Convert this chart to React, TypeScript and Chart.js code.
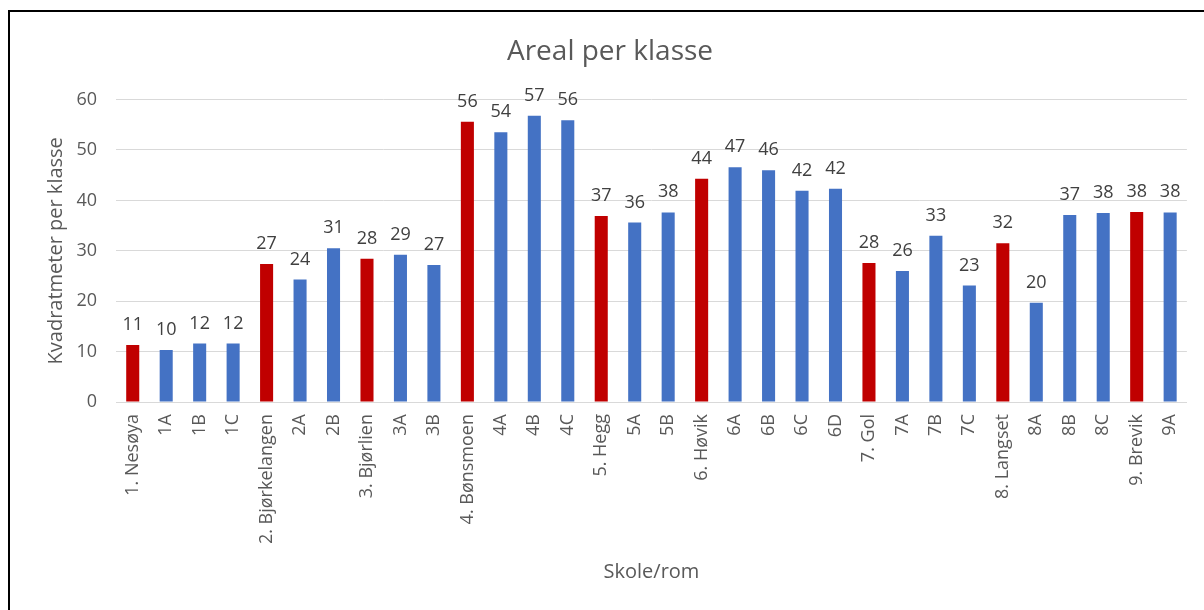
import React, { useEffect, useRef } from "react";
import { Chart, registerables } from "chart.js";

Chart.register(...registerables);

const categories: string[] = [
  "1. Nesøya", "1A", "1B", "1C",
  "2. Bjørkelangen", "2A", "2B",
  "3. Bjørlien", "3A", "3B",
  "4. Bønsmoen", "4A", "4B", "4C",
  "5. Hegg", "5A", "5B",
  "6. Høvik", "6A", "6B", "6C", "6D",
  "7. Gol", "7A", "7B", "7C",
  "8. Langset", "8A", "8B", "8C",
  "9. Brevik", "9A",
];

const areaPerClass: number[] = [
  11.3, 10.3, 11.6, 11.6,
  27.4, 24.3, 30.5,
  28.4, 29.2, 27.2,
  55.6, 53.5, 56.8, 55.9,
  36.9, 35.6, 37.6,
  44.3, 46.6, 46.0, 41.9, 42.3,
  27.6, 26.0, 33.0, 23.1,
  31.5, 19.7, 37.1, 37.5,
  37.7, 37.6,
];

const yTicks: number[] = [0, 10, 20, 30, 40, 50, 60];

const SCHOOL_COLOR = "#C00000";
const ROOM_COLOR = "#4472C4";
const FONT = "'Open Sans', 'DejaVu Sans', sans-serif";

const dataLabels = {
  id: "dataLabels",
  afterDatasetsDraw(chart: any) {
    const ctx = chart.ctx;
    const meta = chart.getDatasetMeta(0);
    const values = chart.data.datasets[0].data as number[];
    ctx.save();
    ctx.fillStyle = "#404040";
    ctx.font = `18px ${FONT}`;
    ctx.textAlign = "center";
    ctx.textBaseline = "alphabetic";
    meta.data.forEach((el: any, i: number) => {
      ctx.fillText(String(Math.round(values[i])), el.x, el.y - 15);
    });
    ctx.restore();
  },
};

export default function App() {
  const ref = useRef<HTMLCanvasElement | null>(null);

  useEffect(() => {
    if (!ref.current) return;
    const colors = categories.map((c) => (/^\d+\./.test(c) ? SCHOOL_COLOR : ROOM_COLOR));
    const chart = new Chart(ref.current, {
      type: "bar",
      data: {
        labels: categories,
        datasets: [
          {
            data: areaPerClass,
            backgroundColor: colors,
            borderWidth: 0,
            barPercentage: 0.39,
            categoryPercentage: 1,
          },
        ],
      },
      options: {
        responsive: false,
        animation: false,
        devicePixelRatio: 1,
        layout: { padding: { left: 22, right: 16, top: 0, bottom: 26 } },
        plugins: {
          legend: { display: false },
          tooltip: { enabled: false },
          title: {
            display: true,
            text: "Areal per klasse",
            color: "#595959",
            font: { family: FONT, size: 28, weight: "normal" as any, lineHeight: 1.2 },
            padding: { top: 23, bottom: 31 },
          },
        },
        scales: {
          x: {
            grid: { display: false, drawTicks: false },
            border: { display: true, color: "#d9d9d9", width: 1 },
            ticks: {
              autoSkip: false,
              minRotation: 90,
              maxRotation: 90,
              padding: 12,
              color: "#595959",
              font: { family: FONT, size: 18 },
            },
            title: {
              display: true,
              text: "Skole/rom",
              color: "#595959",
              font: { family: FONT, size: 20, lineHeight: 1.2 },
              padding: 0,
            },
            afterFit(scale: any) {
              scale.height = 182;
            },
          },
          y: {
            min: 0,
            max: 60,
            afterBuildTicks(scale: any) {
              scale.ticks = yTicks.map((v) => ({ value: v }));
            },
            grid: { color: "#d9d9d9", lineWidth: 1, drawTicks: false },
            border: { display: false },
            ticks: {
              padding: 19,
              color: "#595959",
              font: { family: FONT, size: 18 },
            },
            title: {
              display: true,
              text: "Kvadratmeter per klasse",
              color: "#595959",
              font: { family: FONT, size: 20, lineHeight: 1.2 },
              padding: { top: 12, bottom: 0 },
            },
            afterFit(scale: any) {
              scale.width = 84;
            },
          },
        },
      },
      plugins: [dataLabels],
    });
    return () => chart.destroy();
  }, []);

  return (
    <div style={{ position: "fixed", inset: 0, overflow: "hidden", background: "#fff" }}>
      <div
        style={{
          position: "absolute",
          left: 8,
          top: 10,
          width: 1300,
          height: 700,
          borderTop: "2px solid #000",
          borderLeft: "2px solid #000",
        }}
      >
        <canvas ref={ref} width={1194} height={598} style={{ display: "block" }} />
      </div>
    </div>
  );
}
